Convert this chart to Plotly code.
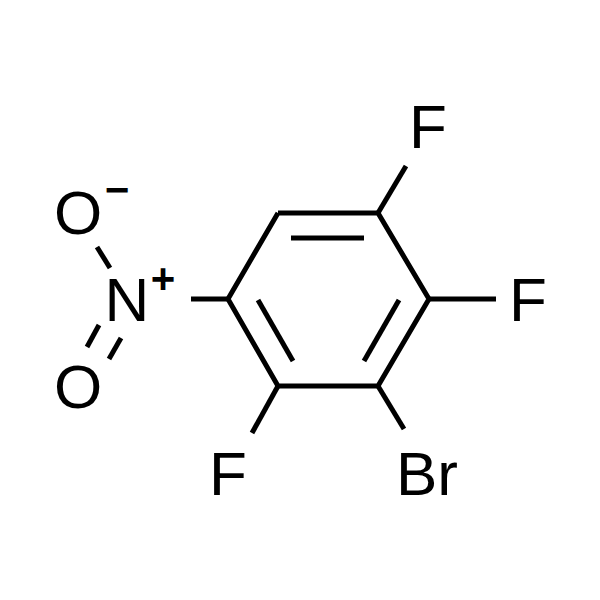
import plotly.graph_objects as go

# bond ends in page pixels, (x0, y0, x1, y1)
ring_x = [278, 378, 429, 378, 278, 228, 278]
ring_y = [213, 213, 299, 386, 386, 299, 213]

inner_bonds = [
    (291, 238, 364, 238),
    (258, 300, 293, 361),
    (399, 300, 364, 361),
]
sub_bonds = [
    (378, 213, 406, 166),
    (429, 299, 496, 299),
    (378, 386, 404, 429),
    (278, 386, 252, 433),
    (228, 299, 191, 299),
    (97, 247, 110, 268),
    (99, 325, 87, 347),
    (121, 338, 109, 359),
]

atom_labels = ["F", "F", "F", "Br", "N", "O", "O"]
atom_x = [428, 528, 228, 427, 127, 78, 78]
atom_y = [132, 305, 479, 479, 305, 218, 392]

charge_labels = ["+", "\u2212"]
charge_x = [163, 117]
charge_y = [282, 193]


def seg_xy(bonds):
    xs, ys = [], []
    for x0, y0, x1, y1 in bonds:
        xs += [x0, x1, None]
        ys += [y0, y1, None]
    return xs, ys


fig = go.Figure()

fig.add_trace(go.Scatter(x=ring_x, y=ring_y, mode="lines",
                         line=dict(color="black", width=5)))
for bonds in (inner_bonds, sub_bonds):
    xs, ys = seg_xy(bonds)
    fig.add_trace(go.Scatter(x=xs, y=ys, mode="lines",
                             line=dict(color="black", width=5)))

fig.add_trace(go.Scatter(x=atom_x, y=atom_y, mode="text", text=atom_labels,
                         textposition="middle center",
                         textfont=dict(family="Liberation Sans", size=62, color="black")))
fig.add_trace(go.Scatter(x=charge_x, y=charge_y, mode="text", text=charge_labels,
                         textposition="middle center",
                         textfont=dict(family="Liberation Sans", size=42, color="black",
                                       weight="bold")))

fig.update_layout(
    width=600, height=600,
    margin=dict(l=0, r=0, t=0, b=0),
    showlegend=False,
    paper_bgcolor="white",
    plot_bgcolor="white",
    xaxis=dict(range=[0, 600], visible=False),
    yaxis=dict(range=[600, 0], visible=False),
)

# page body has a default 8px margin, drop it
fig.write_html("out.html", post_script="document.body.style.margin='0';",
               config=dict(displayModeBar=False))
